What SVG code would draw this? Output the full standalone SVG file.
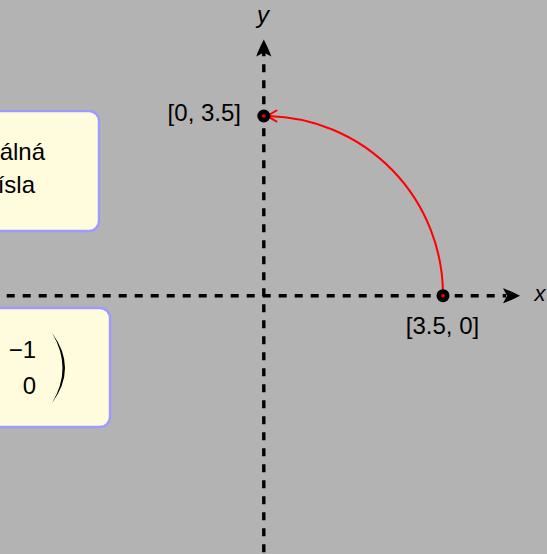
<svg xmlns="http://www.w3.org/2000/svg" width="547" height="554" viewBox="0 0 547 554">
  <style>
    .t { font-family: "Liberation Sans", "DejaVu Sans", sans-serif; font-size: 24px; fill: #000; }
    .it { font-style: italic; }
    .box { fill: #fffcdd; stroke: #9c9cff; stroke-width: 2.5; }
    .axis { fill: none; stroke: #000; stroke-width: 3.4; stroke-dasharray: 8 8; }
    .ah { fill: #000; }
  </style>
  <defs>
    <path id="stealth" d="M0,0 C-4,-2 -12,-6 -17,-7.5 L-13,0 L-17,7.5 C-12,6 -4,2 0,0 Z"/>
  </defs>
  <rect x="0" y="0" width="547" height="554" fill="#b3b3b3"/>

  <g id="box-top">
    <rect class="box" x="-60" y="111" width="159" height="120" rx="10" ry="10"/>
    <text class="t" x="45" y="160" text-anchor="end">álná</text>
    <text class="t" x="35" y="193" text-anchor="end">ísla</text>
  </g>

  <g id="box-bottom">
    <rect class="box" x="-60" y="308" width="170" height="119" rx="10" ry="10"/>
    <text class="t" x="36" y="358" text-anchor="end">−1</text>
    <text class="t" x="36" y="394" text-anchor="end">0</text>
    <path d="M52,333 Q78,368 52,403 Q73,368 52,333 Z" fill="#000"/>
  </g>

  <g id="connectors">
    <path class="axis" d="M-9.3,295.7 H506"/>
    <use href="#stealth" class="ah" transform="translate(520,295.7)"/>
    <path class="axis" d="M263.8,48.3 V554"/>
    <use href="#stealth" class="ah" transform="translate(263.8,39.5) rotate(-90)"/>
    <path d="M443,295.7 A179,179 0 0 0 268,116" fill="none" stroke="#ff0000" stroke-width="2"/>
    <path d="M276.5,110.5 Q271,114 266.5,116 Q271,118 276.5,121.5" fill="none" stroke="#ff0000" stroke-width="2" stroke-linecap="round" stroke-linejoin="round"/>
  </g>

  <g id="point-a">
    <circle cx="263.8" cy="116" r="6.5" fill="#000"/>
    <circle cx="263.8" cy="116" r="1.8" fill="#ff0000"/>
    <text class="t" x="241" y="121" text-anchor="end">[0, 3.5]</text>
  </g>

  <g id="point-b">
    <circle cx="443" cy="295.7" r="6.5" fill="#000"/>
    <circle cx="443" cy="295.7" r="1.8" fill="#ff0000"/>
    <text class="t" x="442.5" y="334" text-anchor="middle">[3.5, 0]</text>
  </g>

  <g id="labels">
    <text class="t it" x="263" y="23" text-anchor="middle">y</text>
    <text class="t it" x="540" y="301" text-anchor="middle" style="font-size:22px">x</text>
  </g>
</svg>
